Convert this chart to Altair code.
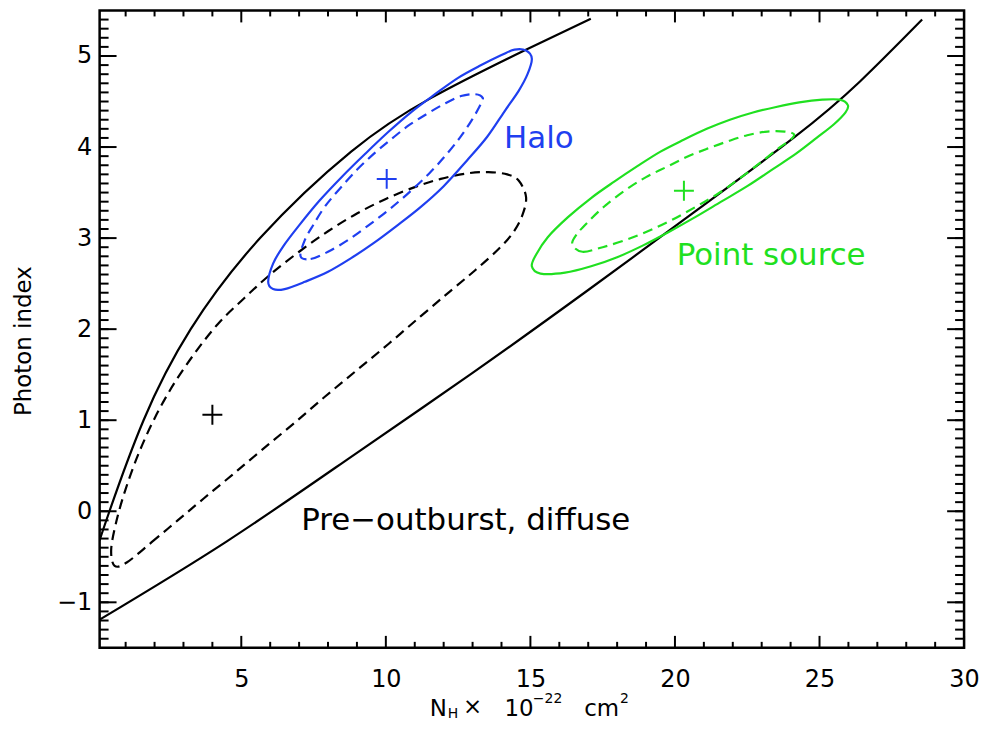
import altair as alt
import pandas as pd

# ---------------- data ----------------
# axis ticks
x_major = [5, 10, 15, 20, 25, 30]
y_major = [-1, 0, 1, 2, 3, 4, 5]
x_minor = [1, 2, 3, 4, 6, 7, 8, 9, 11, 12, 13, 14, 16, 17, 18, 19, 21, 22, 23, 24, 26, 27, 28, 29]
y_minor = [round(-1.4 + 0.1 * i, 1) for i in range(69)]

# upper solid black curve
upper_x = [0.1, 0.44, 1.62, 3.25, 5.65, 8.8, 11.57, 14.79, 17.09]
upper_y = [-0.32, 0.0, 1.0, 2.0, 3.0, 3.95, 4.54, 5.06, 5.41]

# lower solid black curve
lower_x = [0.1, 4.5, 8.9, 13.0, 17.0, 20.3, 24.1, 26.4, 28.55]
lower_y = [-1.19, -0.33, 0.62, 1.52, 2.43, 3.20, 4.10, 4.72, 5.40]

# pre-outburst diffuse contour (black dashed)
pre_x = [1.05, 1.9, 2.8, 3.7, 4.69, 5.7, 6.8, 7.9, 9.0, 10.1, 11.2, 12.2, 13.1, 13.9, 14.4, 14.72, 14.85, 14.6, 14.2,
         13.55, 12.8, 11.9, 11.0, 10.0, 9.0, 8.0, 7.0, 6.0, 5.1, 4.2, 3.4, 2.65, 2.0, 1.45, 1.0, 0.68, 0.50, 0.62]
pre_y = [-0.56, -0.34, -0.10, 0.14, 0.40, 0.67, 0.96, 1.26, 1.55, 1.84, 2.14, 2.41, 2.65, 2.88, 3.06, 3.25, 3.45, 3.63, 3.70,
         3.725, 3.71, 3.65, 3.56, 3.43, 3.27, 3.075, 2.85, 2.60, 2.34, 2.06, 1.74, 1.39, 1.02, 0.635, 0.244, -0.11, -0.42, -0.60]

# halo contours (blue): outer solid, inner dashed
halo_out_x = [5.93, 6.1, 6.5, 7.2, 8.0, 8.8, 9.6, 10.4, 11.2, 12.0, 12.8, 13.5, 14.1, 14.6, 14.9, 15.05, 14.85, 14.45,
              14.0, 13.3, 12.5, 11.7, 10.9, 10.1, 9.3, 8.5, 7.7, 7.0, 6.45, 6.1]
halo_out_y = [2.52, 2.44, 2.44, 2.52, 2.63, 2.78, 2.95, 3.14, 3.34, 3.57, 3.85, 4.11, 4.39, 4.62, 4.80, 4.97, 5.06, 5.07,
              5.01, 4.90, 4.76, 4.58, 4.39, 4.17, 3.93, 3.68, 3.41, 3.14, 2.91, 2.72]
halo_in_x = [7.05, 7.4, 8.0, 8.7, 9.4, 10.1, 10.8, 11.5, 12.1, 12.6, 13.0, 13.28, 13.35, 13.1, 12.6, 12.0, 11.4, 10.8,
             10.2, 9.6, 9.0, 8.4, 7.9, 7.5, 7.2]
halo_in_y = [2.80, 2.77, 2.85, 2.98, 3.14, 3.31, 3.50, 3.71, 3.92, 4.12, 4.31, 4.47, 4.54, 4.58, 4.56, 4.47, 4.36, 4.24,
             4.09, 3.93, 3.75, 3.54, 3.35, 3.15, 2.98]

# point source contours (green): outer solid, inner dashed
ps_out_x = [15.05, 15.35, 16.2, 17.1, 18.0, 18.9, 19.8, 20.7, 21.6, 22.5, 23.4, 24.2, 24.9, 25.5, 25.9, 25.98, 25.7,
            25.1, 24.3, 23.5, 22.7, 21.9, 21.1, 20.3, 19.5, 18.7, 17.9, 17.1, 16.3, 15.6, 15.2]
ps_out_y = [2.69, 2.61, 2.62, 2.69, 2.79, 2.92, 3.07, 3.23, 3.40, 3.57, 3.76, 3.93, 4.10, 4.25, 4.38, 4.46, 4.52,
            4.52, 4.49, 4.44, 4.38, 4.30, 4.20, 4.08, 3.95, 3.79, 3.62, 3.44, 3.23, 3.01, 2.82]
ps_in_x = [16.45, 16.8, 17.5, 18.3, 19.1, 19.9, 20.7, 21.5, 22.3, 23.0, 23.6, 24.0, 24.12, 23.8, 23.2, 22.5, 21.8,
           21.1, 20.4, 19.7, 19.0, 18.3, 17.6, 17.0, 16.6]
ps_in_y = [2.93, 2.85, 2.90, 2.98, 3.08, 3.20, 3.34, 3.49, 3.67, 3.84, 3.99, 4.08, 4.14, 4.17, 4.17, 4.13, 4.06,
           3.98, 3.89, 3.78, 3.67, 3.53, 3.36, 3.18, 3.04]

# best-fit positions
best_x = [4.0, 10.03, 20.31]
best_y = [1.06, 3.65, 3.52]
best_name = ["pre", "halo", "ps"]

# labels
label_text = ["Halo", "Point source", "Pre\u2212outburst, diffuse"]
label_x = [14.09, 20.06, 7.07]
label_y = [3.99, 2.70, -0.21]
label_name = ["halo", "ps", "pre"]

# ---------------- styling ----------------
BLUE = "#1f3ff0"
GREEN = "#20e020"
BLACK = "#000000"
colors = {"pre": BLACK, "halo": BLUE, "ps": GREEN}
FONT = "DejaVu Sans"
W, H = 868, 640

xscale = alt.Scale(domain=[0.1, 30], nice=False, zero=False)
yscale = alt.Scale(domain=[-1.5, 5.5], nice=False, zero=False)
xaxis = alt.Axis(values=x_major, title=None, ticks=False, tickSize=0, domain=False, grid=False,
                 labelFontSize=24, labelFont=FONT, labelColor="black", labelPadding=19.5,
                 labelFlush=False, labelOverlap=False, format="d")
yaxis = alt.Axis(values=y_major, title=None, ticks=False, tickSize=0, domain=False, grid=False,
                 labelFontSize=24, labelFont=FONT, labelColor="black", labelPadding=8,
                 labelFlush=False, labelOverlap=False, format="d")

X = lambda: alt.X("x:Q", scale=xscale, axis=xaxis)
Y = lambda: alt.Y("y:Q", scale=yscale, axis=yaxis)


def df(xs, ys):
    return pd.DataFrame({"x": xs, "y": ys, "i": list(range(len(xs)))})


layers = []

layers.append(alt.Chart(df(upper_x, upper_y)).mark_line(
    interpolate="natural", color=BLACK, strokeWidth=2.2, clip=True
).encode(x=X(), y=Y(), order="i:Q"))

layers.append(alt.Chart(df(lower_x, lower_y)).mark_line(
    interpolate="natural", color=BLACK, strokeWidth=2.2, clip=True
).encode(x=X(), y=Y(), order="i:Q"))


def contour(xs, ys, color, dashed):
    kw = dict(interpolate="cardinal-closed", color=color, strokeWidth=2.2, clip=True)
    if dashed:
        kw["strokeDash"] = [10, 6]
    return alt.Chart(df(xs, ys)).mark_line(**kw).encode(x=X(), y=Y(), order="i:Q")


layers.append(contour(pre_x, pre_y, BLACK, True))
layers.append(contour(halo_out_x, halo_out_y, BLUE, False))
layers.append(contour(halo_in_x, halo_in_y, BLUE, True))
layers.append(contour(ps_out_x, ps_out_y, GREEN, False))
layers.append(contour(ps_in_x, ps_in_y, GREEN, True))

best_df = pd.DataFrame({"x": best_x, "y": best_y, "c": [colors[n] for n in best_name]})
layers.append(alt.Chart(best_df).mark_point(
    shape="M-1,0L1,0M0,-1L0,1", size=400, strokeWidth=2, filled=False, opacity=1
).encode(x=X(), y=Y(), color=alt.Color("c:N", scale=None)))

lab_df = pd.DataFrame({"x": label_x, "y": label_y, "t": label_text,
                       "c": [colors[n] for n in label_name]})
layers.append(alt.Chart(lab_df).mark_text(
    align="left", baseline="alphabetic", fontSize=31, font=FONT
).encode(x=X(), y=Y(), text="t:N", color=alt.Color("c:N", scale=None)))


# inward ticks on all four sides
def vrule(vals, y0, y1):
    return alt.Chart(pd.DataFrame({"x": vals})).mark_rule(color=BLACK, strokeWidth=2).encode(
        x=X(), y=alt.value(y0), y2=alt.value(y1))


def hrule(vals, x0, x1):
    return alt.Chart(pd.DataFrame({"y": vals})).mark_rule(color=BLACK, strokeWidth=2).encode(
        y=Y(), x=alt.value(x0), x2=alt.value(x1))


layers += [
    vrule(x_major, H, H - 12), vrule(x_major, 0, 12),
    vrule(x_minor, H, H - 6), vrule(x_minor, 0, 6),
    hrule(y_major, 0, 17), hrule(y_major, W, W - 17),
    hrule(y_minor, 0, 9), hrule(y_minor, W, W - 9),
]


# axis titles built from text pieces
def txt(t, px, py, size, align="left", angle=0):
    kw = dict(align=align, baseline="alphabetic", fontSize=size, font=FONT, color=BLACK)
    if angle:
        kw["angle"] = angle
    return alt.Chart(pd.DataFrame({"t": [t]})).mark_text(**kw).encode(
        x=alt.value(px), y=alt.value(py), text="t:N")


layers += [
    txt("Photon index", -69, 332, 23, align="center", angle=270),
    txt("N", 331.5, 708, 23),
    txt("H", 349.5, 710, 14),
    txt("\u00d7", 374.5, 706, 23, align="center"),
    txt("10", 406.5, 708, 23),
    txt("\u221222", 435, 695, 14),
    txt("cm", 486.5, 708, 23),
    txt("2", 522.5, 695, 14),
]

chart = alt.layer(*layers).properties(
    width=W, height=H,
    autosize=alt.AutoSizeParams(type="none"),
    padding={"left": 92, "top": 1, "right": 16, "bottom": 74},
).configure_view(stroke=BLACK, strokeWidth=2.5)

chart.save("out.html", embed_options={"renderer": "svg", "actions": False})
